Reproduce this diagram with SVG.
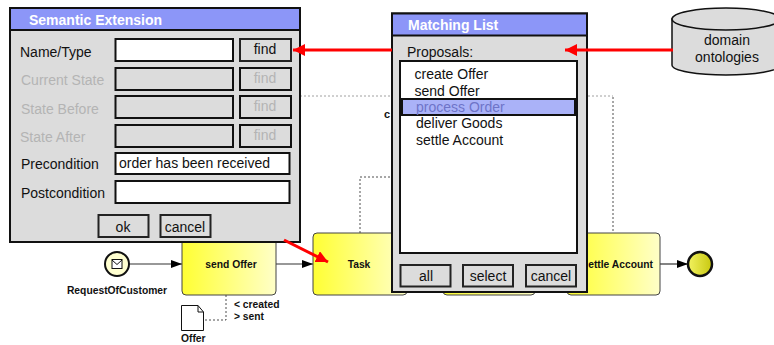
<svg xmlns="http://www.w3.org/2000/svg" width="774" height="345" viewBox="0 0 774 345">
<style>
text{font-family:"Liberation Sans",Arial,sans-serif}
.t{font-size:14px;fill:#111}
.o{font-size:14px;fill:#b4b4b4}
.b{font-size:10.300px;font-weight:bold;fill:#111}
.h{font-size:14px;font-weight:bold;fill:#fff}
.c{text-anchor:middle}
.win{fill:#dcdcdc;stroke:#111;stroke-width:2}
.bar{fill:#8c96f8;stroke:#111;stroke-width:2}
.fld{fill:#fff;stroke:#111;stroke-width:2}
.off{fill:#dcdcdc;stroke:#111;stroke-width:2}
.btn{fill:#dcdcdc;stroke:#222;stroke-width:2}
.task{fill:url(#g);stroke:#444;stroke-width:1}
.flow{fill:none;stroke:#333;stroke-width:1.2;marker-end:url(#ah)}
.dash{fill:none;stroke:#222;stroke-width:.8;stroke-dasharray:2 2}
.gd{fill:none;stroke:#888;stroke-width:.8;stroke-dasharray:2 2}
.red{fill:none;stroke:#f00;stroke-width:3;marker-end:url(#rh)}
</style>
<defs>
<linearGradient id="g" x1="0" x2="1" y1="0" y2="0"><stop offset="0" stop-color="#ffff33"/><stop offset="1" stop-color="#ffffc8"/></linearGradient>
<linearGradient id="e" x1="0" x2="1" y1="0" y2="0"><stop offset="0" stop-color="#f2f260"/><stop offset="1" stop-color="#c8c810"/></linearGradient>
<marker id="ah" markerUnits="userSpaceOnUse" markerWidth="11" markerHeight="9" refX="11" refY="4" orient="auto"><path d="M0 0L11 4L0 8Z" fill="#000"/></marker>
<marker id="rh" markerUnits="userSpaceOnUse" markerWidth="13" markerHeight="13" refX="12" refY="6" orient="auto"><path d="M0 0L12 6L0 12Z" fill="#f00"/></marker>
</defs>
<g id="connectors">
<path class="flow" d="M129 264H182"/>
<path class="flow" d="M276 264H313"/>
<path class="flow" d="M660 264H688"/>
<path class="dash" d="M226 295V320H204"/>
<path class="dash" d="M360 233V177H392"/>
<path class="gd" d="M300 96H613"/>
<path class="dash" d="M613 97V233"/>
</g>
<g id="event-start"><circle cx="117" cy="264" r="12" fill="#ffffd0" stroke="#111" stroke-width="2"/><rect x="112" y="259.500" width="10" height="9" fill="#fff" stroke="#111"/><path d="M112 260L117 264.500L122 260" fill="none" stroke="#111"/><text class="b c" x="117" y="294">RequestOfCustomer</text></g>
<g id="task-send"><rect class="task" x="182" y="225" width="94" height="70" rx="4"/><text class="b c" x="231" y="268">send Offer</text></g>
<g id="task-task"><rect class="task" x="313" y="233" width="94" height="62" rx="4"/><text class="b c" x="359" y="268">Task</text></g>
<g id="task-hidden"><rect class="task" x="443" y="233" width="92" height="62" rx="4"/></g>
<g id="task-settle"><rect class="task" x="567" y="233" width="93" height="62" rx="4"/><text class="b" x="653" y="268" text-anchor="end">ettle Account</text></g>
<g id="event-end"><circle cx="700" cy="264" r="12" fill="url(#e)" stroke="#111" stroke-width="2.500"/></g>
<g id="doc-offer"><path d="M181.500 305.500H198L203.500 312V330.500H181.500Z" fill="#fff" stroke="#111"/><path d="M198 305.500V312H203.500" fill="none" stroke="#111"/><text class="b" x="181" y="342">Offer</text></g>
<g id="state-label"><text class="b" x="234" y="308">&lt; created</text><text class="b" x="234" y="320">&gt; sent</text></g>
<text x="384" y="118" style="font-size:11px;font-weight:bold;fill:#111">c</text>
<g id="semantic-extension">
<rect class="win" x="10" y="8" width="290" height="234"/>
<rect class="bar" x="10" y="8" width="290" height="22"/>
<text class="h" x="29" y="25">Semantic Extension</text>
<text class="t" x="20" y="57">Name/Type</text>
<text class="o" x="21" y="85">Current State</text>
<text class="o" x="21" y="114">State Before</text>
<text class="o" x="20" y="142">State After</text>
<text class="t" x="21" y="169">Precondition</text>
<text class="t" x="21" y="198">Postcondition</text>
<rect class="fld" x="115.500" y="39" width="117.500" height="22"/>
<rect class="off" x="115.500" y="68" width="117.500" height="22"/>
<rect class="off" x="115.500" y="96" width="117.500" height="22"/>
<rect class="off" x="115.500" y="125" width="117.500" height="22"/>
<rect class="fld" x="115.500" y="153" width="174" height="21"/>
<rect class="fld" x="115.500" y="181" width="174" height="22"/>
<text class="t" x="119" y="168">order has been received</text>
<rect class="btn" x="240" y="39" width="51" height="22"/>
<rect class="off" x="240" y="68" width="51" height="22"/>
<rect class="off" x="240" y="96" width="51" height="22"/>
<rect class="off" x="240" y="125" width="51" height="22"/>
<text class="t c" x="265" y="54">find</text>
<text class="o c" x="265" y="83">find</text>
<text class="o c" x="265" y="111">find</text>
<text class="o c" x="265" y="140">find</text>
<rect class="btn" x="98.500" y="215" width="50" height="22"/>
<text class="t c" x="123" y="232">ok</text>
<rect class="btn" x="160.500" y="215" width="50" height="22"/>
<text class="t c" x="185" y="232">cancel</text>
</g>
<g id="matching-list">
<rect class="win" x="392" y="13.500" width="195" height="278.500"/>
<rect class="bar" x="392" y="13.500" width="195" height="22"/>
<text class="h" x="408" y="30">Matching List</text>
<text class="t" x="407" y="57">Proposals:</text>
<rect class="fld" x="400" y="61" width="177" height="192"/>
<text class="t" x="414.500" y="79">create Offer</text>
<text class="t" x="414.500" y="96">send Offer</text>
<rect x="402" y="99" width="173" height="16" fill="#aab2f8" stroke="#111" stroke-width="2"/>
<text x="416" y="112" style="font-size:14px;fill:#6e74c8">process Order</text>
<text class="t" x="416" y="128">deliver Goods</text>
<text class="t" x="416" y="145">settle Account</text>
<rect class="btn" x="400.500" y="265" width="50" height="21.500"/>
<text class="t c" x="426" y="281">all</text>
<rect class="btn" x="463" y="265" width="50" height="21.500"/>
<text class="t c" x="488" y="281">select</text>
<rect class="btn" x="526" y="265" width="50" height="21.500"/>
<text class="t c" x="551" y="281">cancel</text>
</g>
<g id="domain-ontologies">
<path d="M672 19V65C672 71 698 75 726 75S780 71 780 65V19Z" fill="#dcdcdc" stroke="#111" stroke-width="1.500"/>
<ellipse cx="726" cy="19" rx="54" ry="11" fill="#dcdcdc" stroke="#111" stroke-width="1.500"/>
<text class="t c" x="727" y="45">domain</text>
<text class="t c" x="727" y="62">ontologies</text>
</g>
<g id="red-arrows">
<path class="red" d="M392 50H293"/>
<path class="red" d="M673 50H565"/>
<path class="red" d="M284 240L328 262"/>
</g>
</svg>
